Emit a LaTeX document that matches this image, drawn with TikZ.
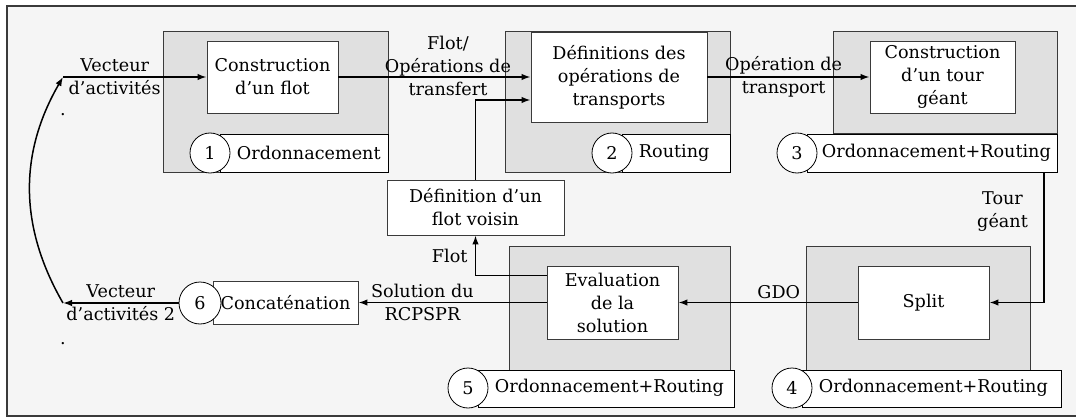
\documentclass[tikz,border=0pt]{standalone}
\usepackage{fontspec}
\setmainfont{DejaVu Serif}
\usepackage{tikz}
\usetikzlibrary{arrows.meta,positioning,calc}
\definecolor{flowbg}{HTML}{F5F5F5}
\definecolor{flowgray}{HTML}{E0E0E0}
\definecolor{flowline}{HTML}{3A3A3A}
\tikzstyle{arrow} = [-{Latex[length=9pt,width=6.5pt]}, line width=1.5pt, black]
\tikzstyle{phase} = [draw=flowline, fill=flowgray, line width=1pt, inner sep=0pt]
\tikzstyle{task} = [draw=flowline, fill=white, line width=0.9pt, align=center, inner sep=0pt]
\tikzstyle{strip} = [draw=black, fill=white, line width=0.9pt, inner sep=0pt, anchor=north west]
\tikzstyle{num} = [circle, draw=black, fill=white, line width=0.8pt, minimum size=40pt, inner sep=0pt]
\tikzstyle{lbl} = [align=center]

\begin{document}
\begin{tikzpicture}[x=1pt, y=-1pt, font=\fontsize{17.6}{23}\selectfont]
\useasboundingbox (0,0) rectangle (1076,417);
\clip (0,0) rectangle (1076,417);
\fill[white] (0,0) rectangle (1076,417);
\draw[draw=flowline, fill=flowbg, line width=1.2pt] (7,6) rectangle (1090,416);
\node[phase, minimum width=225pt, minimum height=140pt] (g1) at (275.5,102) {};
\node[phase, minimum width=225pt, minimum height=140pt] (g2) at (617.5,102) {};
\node[phase, minimum width=224pt, minimum height=102pt] (g3) at (945,83) {};
\node[phase, minimum width=224pt, minimum height=124pt] (g4) at (918,308) {};
\node[phase, minimum width=221pt, minimum height=124pt] (g5) at (619.5,308) {};
\node[task, minimum width=131pt, minimum height=72pt] (b1) at (272.5,77) {Construction\\d’un flot};
\node[task, minimum width=176pt, minimum height=90pt] (b2) at (619,77) {Définitions des\\opérations de\\transports};
\node[task, minimum width=145pt, minimum height=72pt] (b3) at (942.5,77) {Construction\\d’un tour\\géant};
\node[task, minimum width=131pt, minimum height=73pt] (b4) at (923.5,302.5) {Split};
\node[task, minimum width=131pt, minimum height=73pt] (b5) at (612.5,302.5) {Evaluation\\de la\\solution};
\node[task, minimum width=177pt, minimum height=55pt] (voisin) at (475.5,207.5) {Définition d’un\\flot voisin};
\node[task, minimum width=145pt, minimum height=43pt] (concat) at (285.5,302.5) {Concaténation};
\node[strip, minimum width=168pt, minimum height=38pt] (s1) at (220,134) {};
\node[strip, minimum width=108pt, minimum height=38pt] (s2) at (622,134) {};
\node[strip, minimum width=250pt, minimum height=38pt] (s3) at (807,134) {};
\node[strip, minimum width=259pt, minimum height=37pt] (s4) at (802,370) {};
\node[strip, minimum width=256pt, minimum height=37pt] (s5) at (478,370) {};
\node[num] (c1) at (210,153) {1};
\node[num] (c2) at (612,153) {2};
\node[num] (c3) at (797,153) {3};
\node[num] (c4) at (792,388) {4};
\node[num] (c5) at (468,388) {5};
\node[num, minimum size=42pt] (c6) at (200,303) {6};
\node[anchor=west, xshift=3pt] (t1) at (c1.east) {Ordonnacement};
\node[anchor=west, xshift=3pt] (t2) at (c2.east) {Routing};
\node[anchor=west, xshift=1pt] (t3) at (c3.east) {Ordonnacement+Routing};
\node[anchor=west, xshift=3pt] (t4) at (c4.east) {Ordonnacement+Routing};
\node[anchor=west, xshift=3pt] (t5) at (c5.east) {Ordonnacement+Routing};
\coordinate (v1) at (63,77);
\coordinate (v2) at (63,303);
\node[anchor=base] (dot1) at (63,116) {.};
\node[anchor=base] (dot2) at (63,344) {.};
\draw[arrow] (v1) -- (b1) node[lbl, pos=0.36] {Vecteur\\d’activités};
\draw[arrow] (b1) -- (b2) node[lbl, pos=0.57, yshift=11pt] {Flot/\\Opérations de\\transfert};
\draw[arrow] (b2) -- (b3) node[lbl, pos=0.47] {Opération de\\transport};
\draw[arrow] ([xshift=-14pt]s3.south east) |- (b4) node[lbl, left, pos=0.15, xshift=-12pt] {Tour\\géant};
\draw[arrow] (b4) -- (b5) node[above, pos=0.44] {GDO};
\draw[arrow] (b5) -- (concat) node[lbl, pos=0.66] {Solution du\\RCPSPR};
\draw[arrow] ([yshift=-10pt]b5.north west) -| (voisin) node[left, pos=0.75, xshift=-4pt] {Flot};
\draw[arrow] (voisin) |- ([yshift=-23pt]b2.west);
\draw[arrow] (c6) -- (v2) node[lbl, midway] {Vecteur\\d’activités 2};
\draw[arrow] (v2) to[bend left=30] (v1);
\end{tikzpicture}
\end{document}
